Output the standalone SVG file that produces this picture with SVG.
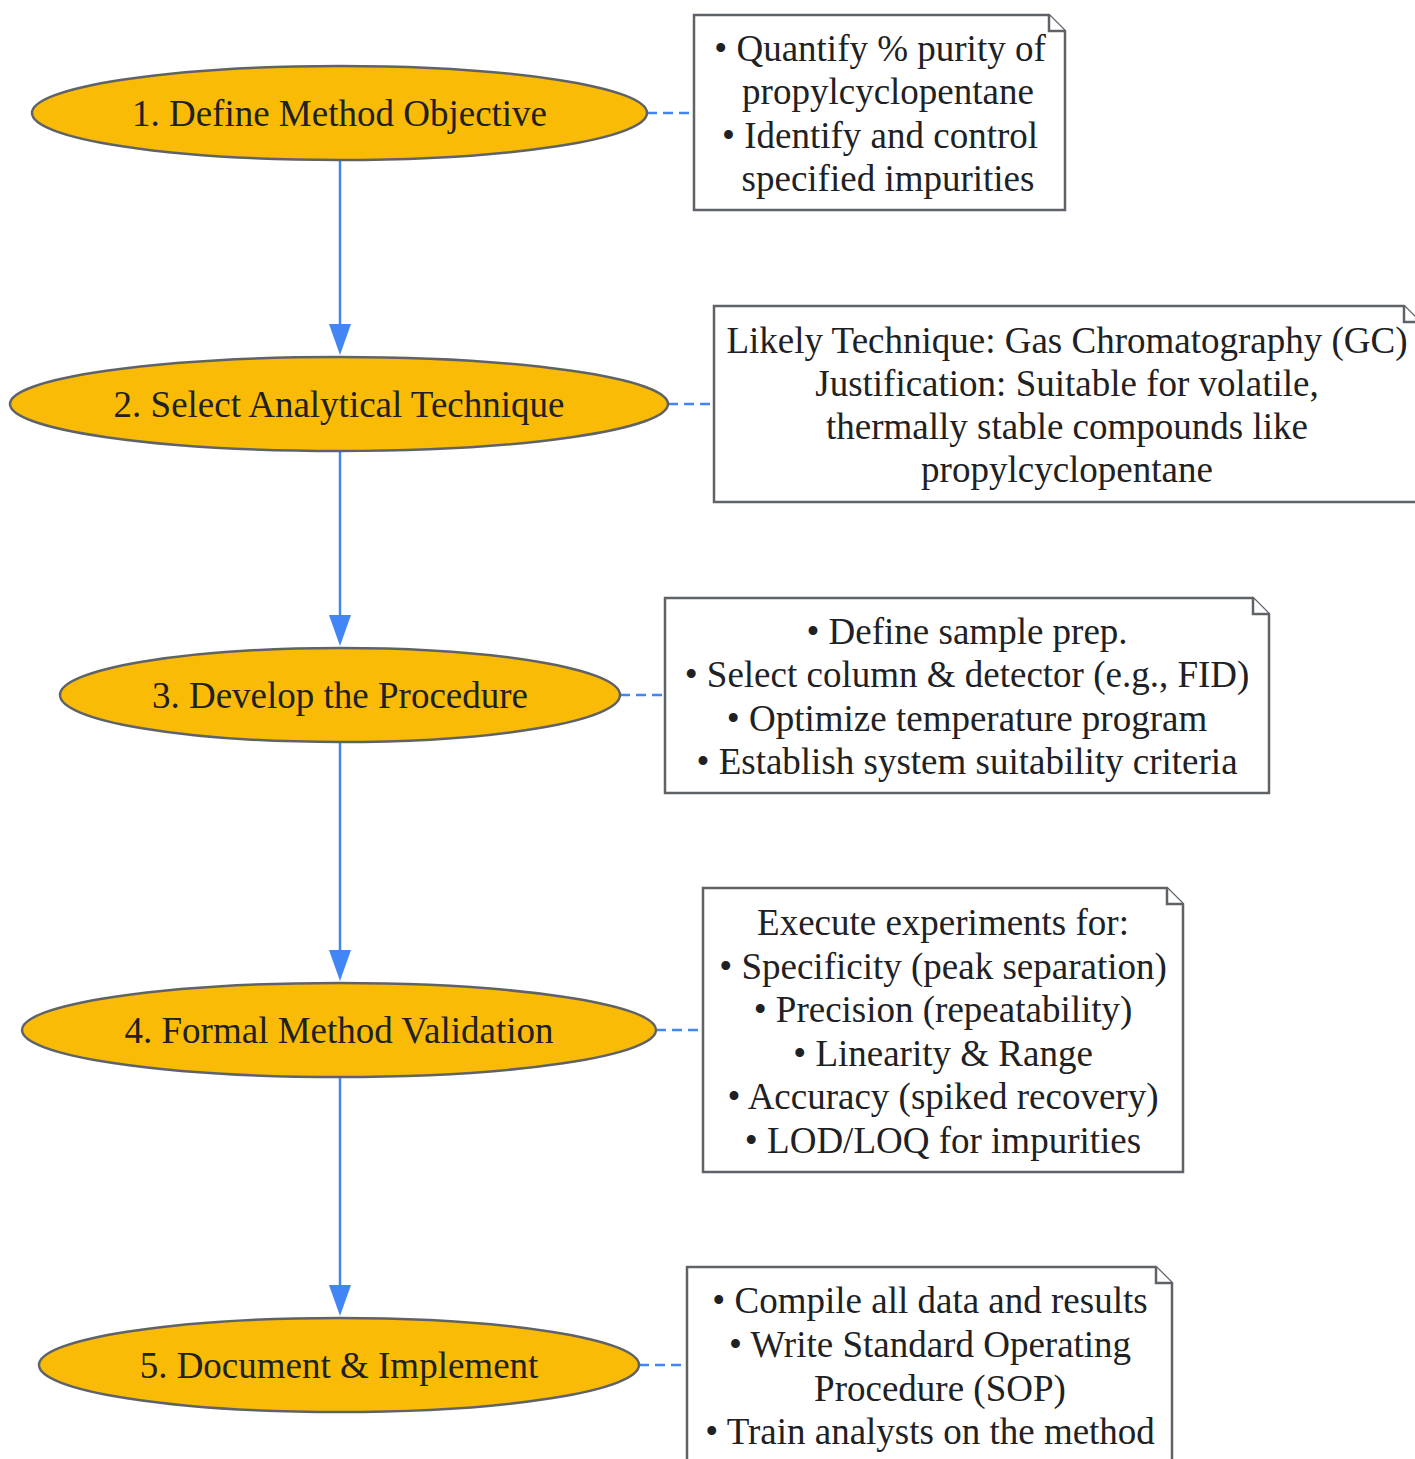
<svg xmlns="http://www.w3.org/2000/svg" width="1415" height="1459" viewBox="0 0 1415 1459">
<defs>
<style>
.node ellipse{fill:#F9BB05;stroke:#5f6368;stroke-width:2.5}
.note path{fill:#fff;stroke:#5f6368;stroke-width:2.5}
text{font-family:"Liberation Serif","Times New Roman",serif;font-size:37px;fill:#202124;text-anchor:middle}
.flow{stroke:#4285F4;stroke-width:2.5;fill:none}
.dash{stroke:#4285F4;stroke-width:2.5;fill:none;stroke-dasharray:10 6}
</style>
</defs>
<rect width="1415" height="1459" fill="#fff"/>
<g id="connectors">
<line class="flow" x1="340" y1="160" x2="340" y2="325"/>
<path d="M329,324 L351,324 L340,355 Z" fill="#4285F4"/>
<line class="flow" x1="340" y1="451" x2="340" y2="616"/>
<path d="M329,615 L351,615 L340,646 Z" fill="#4285F4"/>
<line class="flow" x1="340" y1="742" x2="340" y2="951"/>
<path d="M329,950 L351,950 L340,981 Z" fill="#4285F4"/>
<line class="flow" x1="340" y1="1077" x2="340" y2="1286"/>
<path d="M329,1285 L351,1285 L340,1316 Z" fill="#4285F4"/>
<line class="dash" x1="647" y1="113" x2="694" y2="113"/>
<line class="dash" x1="668" y1="404" x2="714" y2="404"/>
<line class="dash" x1="620" y1="695" x2="665" y2="695"/>
<line class="dash" x1="656" y1="1030" x2="703" y2="1030"/>
<line class="dash" x1="639" y1="1365" x2="687" y2="1365"/>
</g>
<g id="step1" class="node"><ellipse cx="339.5" cy="113" rx="307.5" ry="47"/><text x="339.5" y="126">1. Define Method Objective</text></g>
<g id="step2" class="node"><ellipse cx="339" cy="404" rx="329" ry="47"/><text x="339" y="417">2. Select Analytical Technique</text></g>
<g id="step3" class="node"><ellipse cx="340" cy="695" rx="280" ry="47"/><text x="340" y="708">3. Develop the Procedure</text></g>
<g id="step4" class="node"><ellipse cx="339" cy="1030" rx="317" ry="47"/><text x="339" y="1043">4. Formal Method Validation</text></g>
<g id="step5" class="node"><ellipse cx="339" cy="1365" rx="300" ry="47"/><text x="339" y="1378">5. Document &amp; Implement</text></g>
<g id="note1" class="note">
<path d="M694,15 H1049 L1065,31 V210 H694 Z"/><path d="M1049,15 V31 H1065"/>
<text x="880" y="61">• Quantify % purity of</text>
<text x="888" y="104">propylcyclopentane</text>
<text x="880" y="148">• Identify and control</text>
<text x="888" y="191">specified impurities</text>
</g>
<g id="note2" class="note">
<path d="M714,306 H1404 L1420,322 V502 H714 Z"/><path d="M1404,306 V322 H1420"/>
<text x="1067" y="353">Likely Technique: Gas Chromatography (GC)</text>
<text x="1067" y="396">Justification: Suitable for volatile,</text>
<text x="1067" y="439">thermally stable compounds like</text>
<text x="1067" y="482">propylcyclopentane</text>
</g>
<g id="note3" class="note">
<path d="M665,598 H1253 L1269,614 V793 H665 Z"/><path d="M1253,598 V614 H1269"/>
<text x="967" y="644">• Define sample prep.</text>
<text x="967" y="687">• Select column &amp; detector (e.g., FID)</text>
<text x="967" y="731">• Optimize temperature program</text>
<text x="967" y="774">• Establish system suitability criteria</text>
</g>
<g id="note4" class="note">
<path d="M703,888 H1167 L1183,904 V1172 H703 Z"/><path d="M1167,888 V904 H1183"/>
<text x="943" y="935">Execute experiments for:</text>
<text x="943" y="979">• Specificity (peak separation)</text>
<text x="943" y="1022">• Precision (repeatability)</text>
<text x="943" y="1066">• Linearity &amp; Range</text>
<text x="943" y="1109">• Accuracy (spiked recovery)</text>
<text x="943" y="1153">• LOD/LOQ for impurities</text>
</g>
<g id="note5" class="note">
<path d="M687,1267 H1156 L1172,1283 V1470 H687 Z"/><path d="M1156,1267 V1283 H1172"/>
<text x="930" y="1313">• Compile all data and results</text>
<text x="930" y="1357">• Write Standard Operating</text>
<text x="940" y="1401">Procedure (SOP)</text>
<text x="930" y="1444">• Train analysts on the method</text>
</g>
</svg>
